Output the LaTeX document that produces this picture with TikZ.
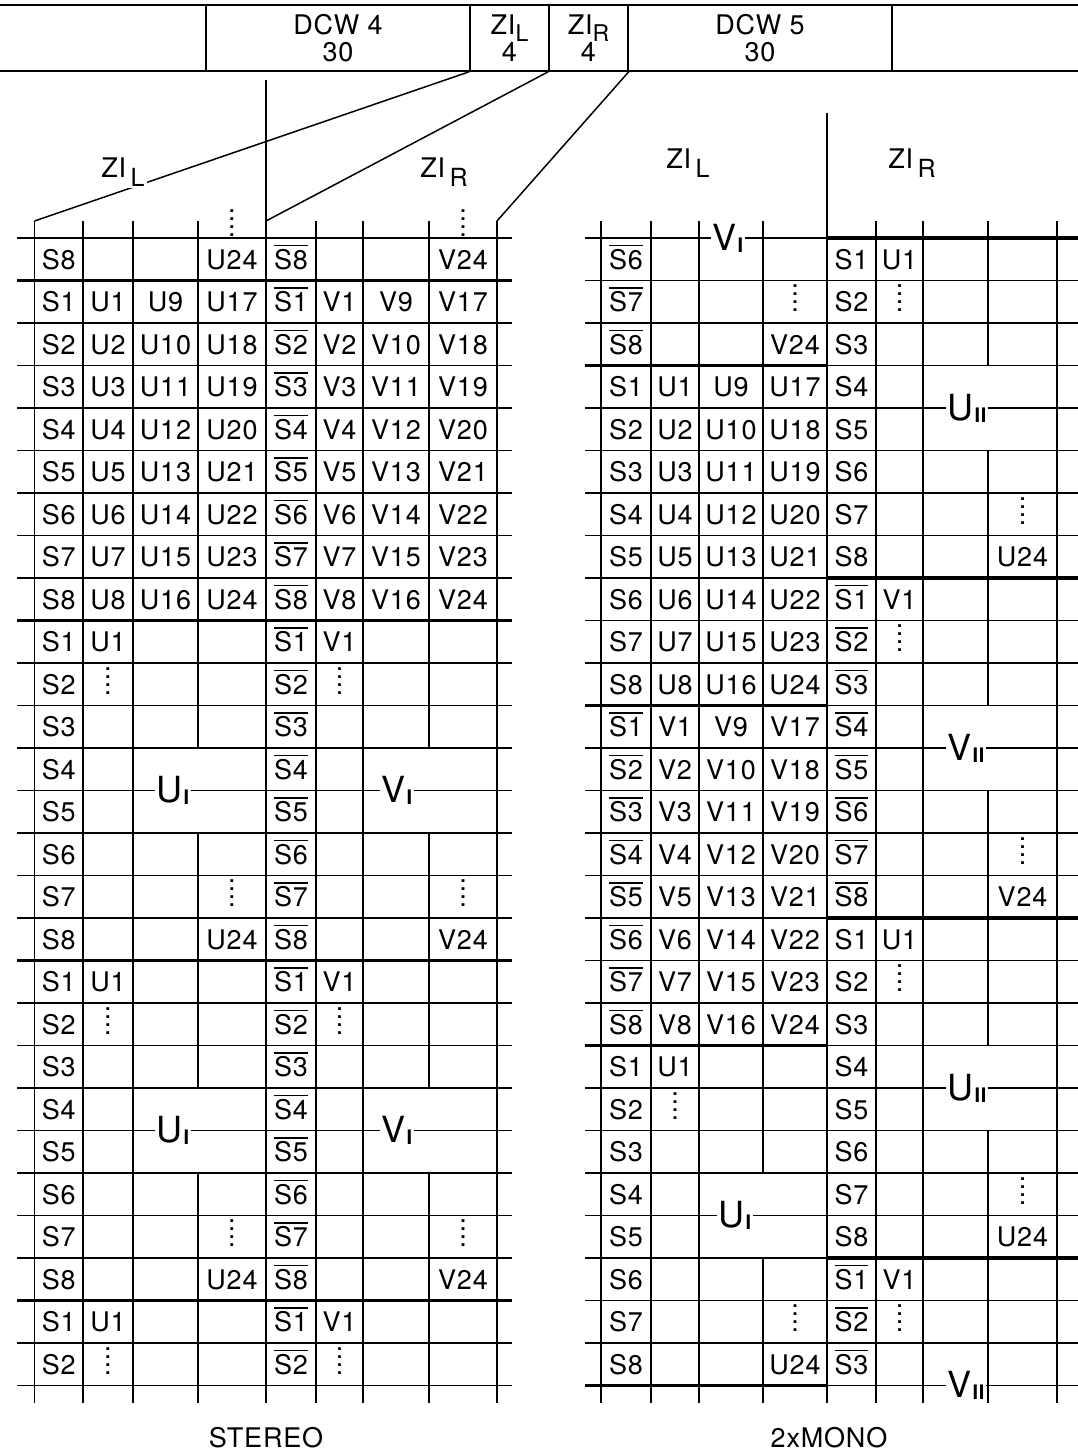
\documentclass[tikz,border=0pt]{standalone}
\usepackage{fontspec}
\setmainfont{TeX Gyre Heros}[LetterSpace=3]
\newlength\sbw
% S with a bar over it
\newcommand\Sb[1]{\settowidth\sbw{S#1}\rlap{\rule[23pt]{\sbw}{1.6pt}}S#1}
\newcommand\dts{\vbox{\baselineskip=8pt\lineskiplimit=0pt\hbox{.}\hbox{.}\hbox{.}\hbox{.}}}
\newcommand\zis[1]{ZI\raisebox{-7pt}{\fontsize{23}{23}\selectfont #1}}
\newcommand\zib[1]{ZI\,\raisebox{-9pt}{\fontsize{25}{25}\selectfont #1}}
\newcommand\gtx[2]{{\fontsize{36}{36}\selectfont #1}\kern1pt\raisebox{-2pt}{\fontsize{20}{20}\selectfont\bfseries #2}}
\def\gtop{238}
\def\rowh{42.5}
\def\colc{{0,58.75,108,165.5,232,291,339.5,396,463,626,675,731,795,851.5,899.5,955.5,1022.5}}
\newcommand\cel[3]{%
  \pgfmathtruncatemacro\celr{#1}%
  \pgfmathsetmacro\celx{\colc[#2]}%
  \pgfmathsetmacro\cely{\gtop+(\celr+0.5)*\rowh+10}%
  \node[cell] (c-\celr-#2) at (\celx,\cely) {#3};}
\newcommand\vseg[3]{\draw[gl] (#1,{\gtop+#2*\rowh}) -- (#1,{\gtop+#3*\rowh});}
\begin{document}
\begin{tikzpicture}[x=1pt,y=-1pt,font=\fontsize{27}{27}\selectfont,
  gl/.style={line width=1.5pt},
  bl/.style={line width=3.8pt},
  cell/.style={anchor=base,inner sep=0pt},
  grp/.style={fill=white,inner sep=2pt},
  strip/.style={draw,line width=1.5pt,minimum height=66pt,align=center,inner sep=0pt}]
\useasboundingbox (0,0) rectangle (1078,1452);
% frame of the data words
\draw[gl] (0,5) -- (1078,5);
\draw[gl] (0,71) -- (1078,71);
\node[strip,minimum width=264pt] (dcw4) at (338,38) {DCW 4\\30};
\node[strip,minimum width=79pt] (zil) at (509.5,38) {\zis{L}\\4};
\node[strip,minimum width=79pt] (zir) at (588.5,38) {\zis{R}\\4};
\node[strip,minimum width=264pt] (dcw5) at (760,38) {DCW 5\\30};
\coordinate (ft1) at (34.5,{\gtop-17});
\coordinate (ft2) at (266,{\gtop-17});
\coordinate (ft3) at (497,{\gtop-17});
\draw[gl] (zil.south west) -- (ft1);
\draw[gl] (zir.south west) -- (ft2);
\draw[gl] (zir.south east) -- (ft3);
\draw[gl] (266,80) -- (ft2);
\node[grp] (zl1) at (123,172) {\zib{L}};
\node (zr1) at (444,172) {\zib{R}};
\node (zl2) at (688,163) {\zib{L}};
\node (zr2) at (912,163) {\zib{R}};
% stereo grid
\foreach \i in {0,...,27} \draw[gl] (17,{\gtop+\i*\rowh}) -- (512,{\gtop+\i*\rowh});
\foreach \i in {1,9,17,25} \draw[bl] (17,{\gtop+\i*\rowh}) -- (512,{\gtop+\i*\rowh});
\foreach \x in {34.5,83,133,266,316,363,497} {\vseg{\x}{-0.4}{27.4}}
\foreach \x in {198,429} {\vseg{\x}{-0.4}{12} \vseg{\x}{14}{20} \vseg{\x}{22}{27.4}}
% 2xmono grid
\foreach \i in {0,...,27} \draw[gl] (585,{\gtop+\i*\rowh}) -- (1078,{\gtop+\i*\rowh});
\foreach \i in {3,11,19,27} \draw[bl] (585,{\gtop+\i*\rowh}) -- (827,{\gtop+\i*\rowh});
\foreach \i in {0,8,16,24} \draw[bl] (827,{\gtop+\i*\rowh}) -- (1078,{\gtop+\i*\rowh});
\foreach \x in {601,651,699,876,923,1057} {\vseg{\x}{-0.4}{27.4}}
\vseg{763}{-0.4}{22} \vseg{763}{24}{27.4}
\vseg{988}{-0.4}{3} \vseg{988}{5}{11} \vseg{988}{13}{19} \vseg{988}{21}{27.4}
\draw[gl] (827,113) -- (827,{\gtop+27.4*\rowh});
% stereo cells
\node[cell] (dt4) at (232,236) {\dts};
\node[cell] (dt8) at (463,236) {\dts};
\cel{0}{1}{S8} \cel{0}{4}{U24} \cel{0}{5}{\Sb8} \cel{0}{8}{V24}
\foreach \k [evaluate=\k as \m using int(\k+8), evaluate=\k as \n using int(\k+16)] in {1,...,8}{
  \cel{\k}{1}{S\k} \cel{\k}{2}{U\k} \cel{\k}{3}{U\m} \cel{\k}{4}{U\n}
  \cel{\k}{5}{\Sb{\k}} \cel{\k}{6}{V\k} \cel{\k}{7}{V\m} \cel{\k}{8}{V\n}
}
\foreach \b in {9,17}{
  \foreach \k in {1,...,8}{\cel{\b+\k-1}{1}{S\k} \cel{\b+\k-1}{5}{\Sb{\k}}}
  \cel{\b}{2}{U1} \cel{\b}{6}{V1}
  \cel{\b+1}{2}{\dts} \cel{\b+1}{6}{\dts}
  \cel{\b+6}{4}{\dts} \cel{\b+6}{8}{\dts}
  \cel{\b+7}{4}{U24} \cel{\b+7}{8}{V24}
}
\cel{25}{1}{S1} \cel{25}{2}{U1} \cel{25}{5}{\Sb1} \cel{25}{6}{V1}
\cel{26}{1}{S2} \cel{26}{2}{\dts} \cel{26}{5}{\Sb2} \cel{26}{6}{\dts}
% 2xmono cells
\cel{0}{9}{\Sb6} \cel{1}{9}{\Sb7} \cel{1}{12}{\dts} \cel{2}{9}{\Sb8} \cel{2}{12}{V24}
\foreach \k [evaluate=\k as \m using int(\k+8), evaluate=\k as \n using int(\k+16)] in {1,...,8}{
  \cel{\k+2}{9}{S\k} \cel{\k+2}{10}{U\k} \cel{\k+2}{11}{U\m} \cel{\k+2}{12}{U\n}
  \cel{\k+10}{9}{\Sb{\k}} \cel{\k+10}{10}{V\k} \cel{\k+10}{11}{V\m} \cel{\k+10}{12}{V\n}
  \cel{\k+18}{9}{S\k}
}
\cel{19}{10}{U1} \cel{20}{10}{\dts} \cel{25}{12}{\dts} \cel{26}{12}{U24}
\foreach \b in {0,16}{
  \foreach \k in {1,...,8}{\cel{\b+\k-1}{13}{S\k}}
  \cel{\b}{14}{U1} \cel{\b+1}{14}{\dts} \cel{\b+6}{16}{\dts} \cel{\b+7}{16}{U24}
}
\foreach \k in {1,...,8}{\cel{\k+7}{13}{\Sb{\k}}}
\cel{8}{14}{V1} \cel{9}{14}{\dts} \cel{14}{16}{\dts} \cel{15}{16}{V24}
\cel{24}{13}{\Sb1} \cel{24}{14}{V1} \cel{25}{13}{\Sb2} \cel{25}{14}{\dts} \cel{26}{13}{\Sb3}
% group labels
\node[grp] (ui1) at (173,{\gtop+13*\rowh}) {\gtx{U}{I}};
\node[grp] (vi1) at (397,{\gtop+13*\rowh}) {\gtx{V}{I}};
\node[grp] (ui2) at (173,{\gtop+21*\rowh}) {\gtx{U}{I}};
\node[grp] (vi2) at (397,{\gtop+21*\rowh}) {\gtx{V}{I}};
\node[grp] (vi3) at (728,{\gtop}) {\gtx{V}{I}};
\node[grp] (ui3) at (735,{\gtop+23*\rowh}) {\gtx{U}{I}};
\node[grp] (uii1) at (967,{\gtop+4*\rowh}) {\gtx{U}{II}};
\node[grp] (vii1) at (966,{\gtop+12*\rowh}) {\gtx{V}{II}};
\node[grp] (uii2) at (967,{\gtop+20*\rowh}) {\gtx{U}{II}};
\node[grp] (vii2) at (966,{\gtop+27*\rowh}) {\gtx{V}{II}};
\node (stereo) at (266,1438) {STEREO};
\node (mono) at (829,1438) {2xMONO};
\end{tikzpicture}
\end{document}
